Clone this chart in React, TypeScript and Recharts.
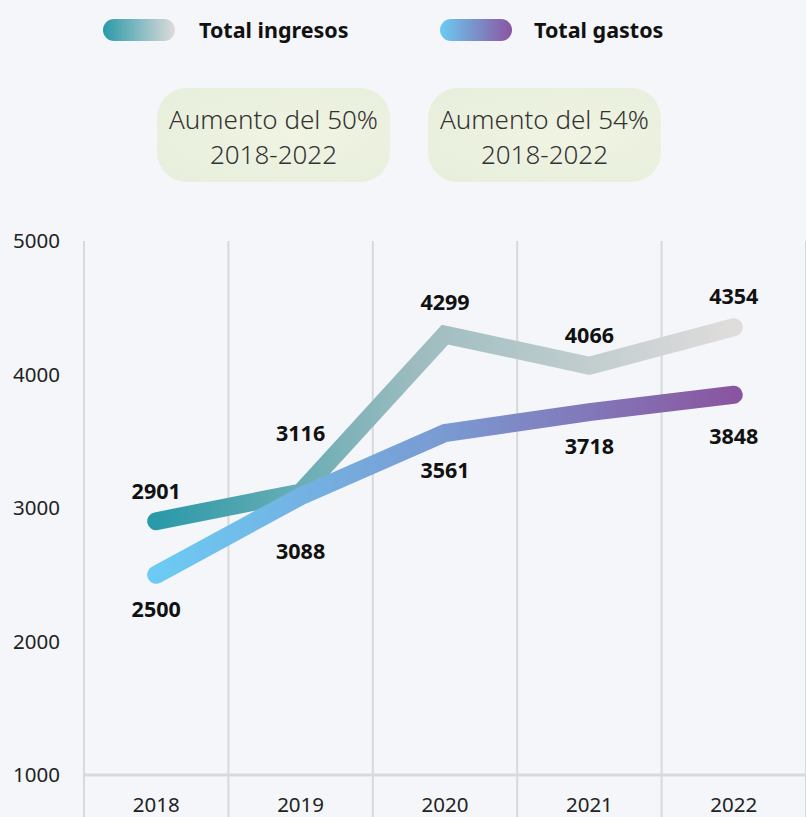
import React from 'react';
import { LineChart, Line, XAxis, YAxis, ReferenceLine, LabelList } from 'recharts';

const years = ['2018', '2019', '2020', '2021', '2022'];
const ingresos = [2901, 3116, 4299, 4066, 4354];
const gastos = [2500, 3088, 3561, 3718, 3848];
const yTicks = [1000, 2000, 3000, 4000, 5000];
const seriesNames = ['Total ingresos', 'Total gastos'];
const notes = [
  ['Aumento del 50%', '2018-2022'],
  ['Aumento del 54%', '2018-2022'],
];

const data = years.map((year, i) => ({
  pos: i + 0.5,
  year,
  ingresos: ingresos[i],
  gastos: gastos[i],
}));

const bandEdges = years.map((_, i) => i).concat([years.length]);
const xTicks: number[] = [];
bandEdges.forEach((e, i) => {
  xTicks.push(e);
  if (i < years.length) xTicks.push(e + 0.5);
});

const ingresosLabelDy = [-31, -60, -33, -31, -32];
const gastosLabelDy = [34, 54, 36, 33, 41];

const FONT = '"Noto Sans", "Source Sans Pro", sans-serif';
const GRID = '#d8d9db';

const makeLabel = (offsets: number[]) => (props: any) => {
  const { x, y, value, index } = props;
  return (
    <text
      x={x}
      y={y + offsets[index]}
      textAnchor="middle"
      dominantBaseline="central"
      fontFamily={FONT}
      fontWeight={700}
      fontSize={21.5}
      fill="#111"
    >
      {value}
    </text>
  );
};

const XTick = (props: any) => {
  const { x, y, payload } = props;
  const v = payload.value;
  if (Number.isInteger(v)) {
    return <line x1={x} x2={x} y1={y} y2={y + 44} stroke={GRID} strokeWidth={2} />;
  }
  return (
    <text x={x} y={y + 29} textAnchor="middle" dominantBaseline="central" fontFamily={FONT} fontSize={20.5} fill="#222">
      {years[Math.floor(v)]}
    </text>
  );
};

const Pill = ({ from, to }: { from: string; to: string }) => (
  <div
    style={{
      width: 72,
      height: 22,
      borderRadius: 11,
      background: `linear-gradient(90deg, ${from}, ${to})`,
    }}
  />
);

export default function App() {
  return (
    <div
      style={{
        position: 'absolute',
        left: 0,
        top: 0,
        width: 806,
        height: 817,
        background: '#f4f6f9',
        overflow: 'hidden',
        fontFamily: FONT,
      }}
    >
      {/* Legend */}
      <div style={{ position: 'absolute', left: 103, top: 16, display: 'flex', alignItems: 'center', height: 28 }}>
        <Pill from="#2a9aa8" to="#dedbdb" />
        <span style={{ marginLeft: 24, fontWeight: 700, fontSize: 21.5, color: '#111', lineHeight: '28px' }}>{seriesNames[0]}</span>
      </div>
      <div style={{ position: 'absolute', left: 440, top: 16, display: 'flex', alignItems: 'center', height: 28 }}>
        <Pill from="#6ccbf3" to="#8a55a0" />
        <span style={{ marginLeft: 22, fontWeight: 700, fontSize: 21.5, color: '#111', lineHeight: '28px' }}>{seriesNames[1]}</span>
      </div>

      {/* Notes */}
      {notes.map((lines, i) => (
        <div
          key={i}
          style={{
            position: 'absolute',
            left: i === 0 ? 157 : 428,
            top: 88,
            width: 233,
            height: 94,
            borderRadius: 30,
            background: 'radial-gradient(ellipse at 60% 50%, #f1f4e2 0%, #e6eedc 100%)',
            display: 'flex',
            flexDirection: 'column',
            alignItems: 'center',
            justifyContent: 'center',
            color: '#333',
            fontWeight: 300,
            fontSize: 26,
            lineHeight: '35px',
            paddingTop: 3,
            boxSizing: 'border-box',
          }}
        >
          <div>{lines[0]}</div>
          <div>{lines[1]}</div>
        </div>
      ))}

      <div style={{ position: 'absolute', left: 0, top: 0 }}>
        <LineChart
          width={806}
          height={817}
          data={data}
          margin={{ top: 241, right: 0, left: 0, bottom: 0 }}
        >
          <defs>
            <linearGradient id="gradIng" x1="0" y1="0" x2="1" y2="0">
              <stop offset="0%" stopColor="#2a9aa8" />
              <stop offset="45%" stopColor="#9dbcbf" />
              <stop offset="100%" stopColor="#e0dcdc" />
            </linearGradient>
            <linearGradient id="gradGas" x1="0" y1="0" x2="1" y2="0">
              <stop offset="0%" stopColor="#6ccbf3" />
              <stop offset="50%" stopColor="#7a9ad2" />
              <stop offset="100%" stopColor="#8a55a0" />
            </linearGradient>
          </defs>
          <XAxis
            type="number"
            dataKey="pos"
            domain={[0, years.length]}
            ticks={xTicks}
            interval={0}
            height={42}
            tickLine={false}
            tickSize={0}
            tickMargin={0}
            axisLine={{ stroke: GRID, strokeWidth: 3 }}
            tick={<XTick />}
          />
          <YAxis
            type="number"
            domain={[1000, 5000]}
            ticks={yTicks}
            width={84}
            axisLine={false}
            tickLine={false}
            tickSize={0}
            tickMargin={24}
            tick={{ fontFamily: FONT, fontSize: 20.5, fill: '#222' }}
          />
          {bandEdges.map((e) => (
            <ReferenceLine key={e} x={e} stroke={GRID} strokeWidth={2} ifOverflow="extendDomain" />
          ))}
          <Line
            type="linear"
            dataKey="ingresos"
            stroke="url(#gradIng)"
            strokeWidth={18}
            strokeLinecap="round"
            dot={false}
            activeDot={false}
            isAnimationActive={false}
          >
            <LabelList dataKey="ingresos" content={makeLabel(ingresosLabelDy)} />
          </Line>
          <Line
            type="linear"
            dataKey="gastos"
            stroke="url(#gradGas)"
            strokeWidth={18}
            strokeLinecap="round"
            dot={false}
            activeDot={false}
            isAnimationActive={false}
          >
            <LabelList dataKey="gastos" content={makeLabel(gastosLabelDy)} />
          </Line>
        </LineChart>
      </div>
    </div>
  );
}
